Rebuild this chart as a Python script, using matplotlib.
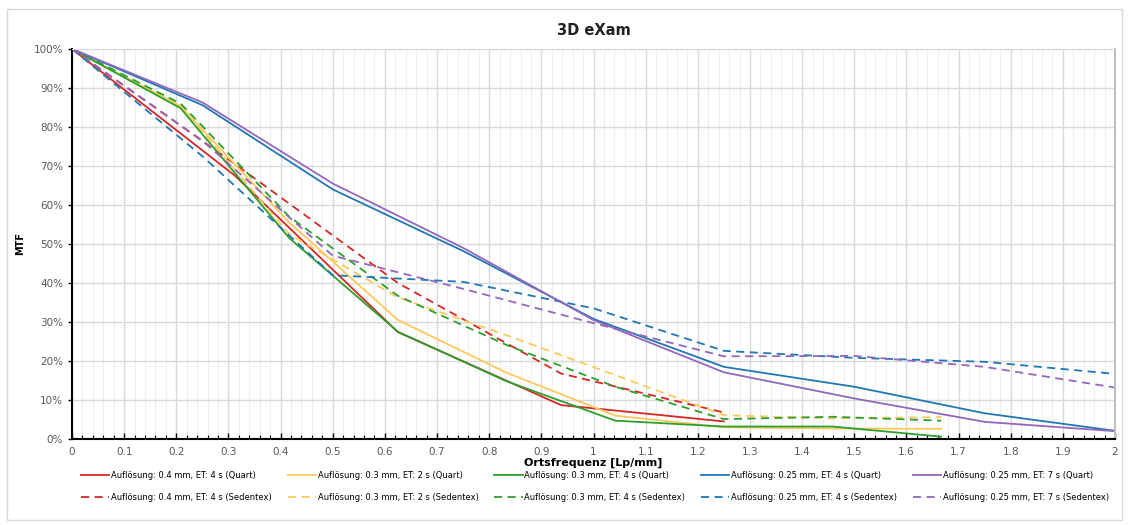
import numpy as np
import matplotlib
matplotlib.use('Agg')
from matplotlib import pyplot as plt
from matplotlib.ticker import MultipleLocator, PercentFormatter
from matplotlib.patches import Rectangle

plt.rcParams['font.family'] = ['DejaVu Sans']

# Ortsfrequenz-Stuetzstellen [Lp/mm]
f_04 = [0, 0.3125, 0.625, 0.9375, 1.25]
f_03 = [0, 0.2083, 0.4167, 0.625, 0.8333, 1.0417, 1.25, 1.4583, 1.6667]
f_025 = [0, 0.25, 0.5, 0.75, 1.0, 1.25, 1.5, 1.75, 2.0]

# MTF [%] - Quart
mtf_04_4s_q = [100, 67.5, 27.4, 8.7, 4.5]
mtf_03_2s_q = [100, 85.3, 55.5, 30.5, 17.0, 6.0, 3.0, 2.7, 2.6]
mtf_03_4s_q = [100, 84.8, 51.5, 27.5, 14.8, 4.7, 3.2, 3.2, 0.6]
mtf_025_4s_q = [100, 85.6, 64.0, 48.2, 30.8, 18.5, 13.4, 6.6, 2.1]
mtf_025_7s_q = [100, 86.3, 65.5, 49.0, 30.5, 17.1, 10.4, 4.4, 2.0]

# MTF [%] - Sedentex
mtf_04_4s_s = [100, 70.5, 40.0, 16.8, 6.8]
mtf_03_2s_s = [100, 85.5, 52.5, 36.3, 26.6, 16.4, 6.1, 5.3, 5.6]
mtf_03_4s_s = [100, 86.0, 57.0, 36.7, 24.1, 13.4, 5.1, 5.7, 4.7]
mtf_025_4s_s = [100, 72.5, 42.0, 40.3, 33.5, 22.6, 20.8, 19.8, 16.7]
mtf_025_7s_s = [100, 76.5, 47.0, 38.5, 29.7, 21.2, 21.3, 18.5, 13.2]

labels = ['Auflösung: 0.4 mm, ET: 4 s', 'Auflösung: 0.3 mm, ET: 2 s',
          'Auflösung: 0.3 mm, ET: 4 s', 'Auflösung: 0.25 mm, ET: 4 s',
          'Auflösung: 0.25 mm, ET: 7 s']
colors = ['#d62728', '#ffc85a', '#2ca02c', '#1f77b4', '#9467bd']
freqs = [f_04, f_03, f_03, f_025, f_025]
quart = [mtf_04_4s_q, mtf_03_2s_q, mtf_03_4s_q, mtf_025_4s_q, mtf_025_7s_q]
sedentex = [mtf_04_4s_s, mtf_03_2s_s, mtf_03_4s_s, mtf_025_4s_s, mtf_025_7s_s]

fig = plt.figure(figsize=(11.29, 5.25), dpi=100)
fig.patches.append(Rectangle((0.006, 0.01), 0.988, 0.972, transform=fig.transFigure,
                             fill=False, edgecolor='#d9d9d9', linewidth=1))
ax = fig.add_axes([0.0638, 0.1638, 0.9238, 0.7429])

handles = []
for f, q, s, c, lab in zip(freqs, quart, sedentex, colors, labels):
    h1, = ax.plot(f, q, color=c, lw=1.3, label=lab + ' (Quart)')
    h2, = ax.plot(f, s, color=c, lw=1.3, ls=(0, (4.5, 3)), label=lab + ' (Sedentex)')
    handles += [h1, h2]

ax.set_xlim(0, 2)
ax.set_ylim(0, 100)
ax.xaxis.set_major_locator(MultipleLocator(0.1))
ax.xaxis.set_minor_locator(MultipleLocator(0.02))
ax.yaxis.set_major_locator(MultipleLocator(10))
ax.yaxis.set_major_formatter(PercentFormatter(xmax=100, decimals=0))
ax.set_xticklabels(['%g' % round(v, 1) for v in ax.get_xticks()])
ax.grid(which='major', color='#d9d9d9', lw=1)
ax.grid(which='minor', axis='x', color='#eeeeee', lw=0.8)
ax.set_axisbelow(True)

ax.tick_params(axis='x', which='major', direction='in', length=4, width=1, colors='black',
               labelcolor='#595959', labelsize=7.5, pad=6)
ax.tick_params(axis='x', which='minor', direction='in', length=3, width=0.8, colors='black')
ax.tick_params(axis='y', which='major', direction='out', length=3, width=1, colors='black',
               labelcolor='#595959', labelsize=7.5)
for sp in ['left', 'bottom']:
    ax.spines[sp].set_color('black')
    ax.spines[sp].set_linewidth(1.5)
ax.spines['right'].set_color('#bfbfbf')
ax.spines['right'].set_linewidth(1.5)
ax.spines['top'].set_color('#d9d9d9')

ax.set_title('3D eXam', fontsize=10.5, fontweight='bold', color='#222222', pad=10)
ax.set_xlabel('Ortsfrequenz [Lp/mm]', fontsize=8, fontweight='bold', labelpad=0)
ax.set_ylabel('MTF', fontsize=7, fontweight='bold', labelpad=6)

fig.legend(handles=handles, loc='upper center', bbox_to_anchor=(0.527, 0.118), ncol=5,
           frameon=False, fontsize=6.0, handlelength=3.4, handletextpad=0.2,
           columnspacing=1.9, labelspacing=1.6)

fig.savefig('out.png', dpi=100)
